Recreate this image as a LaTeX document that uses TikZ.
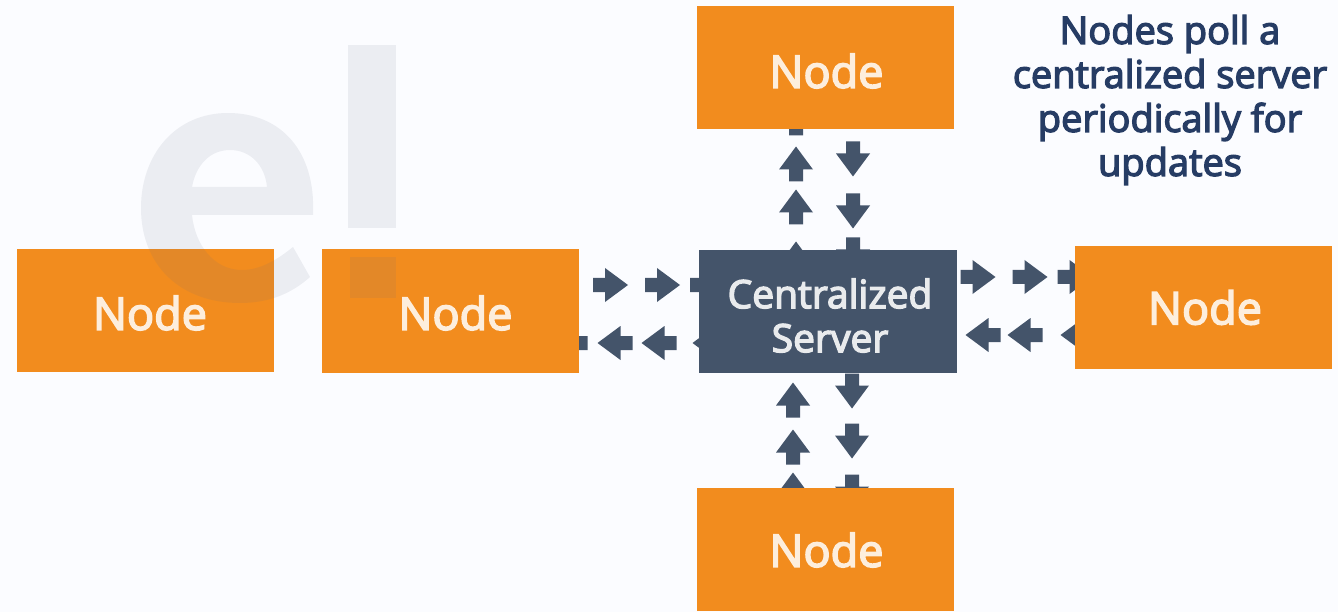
\documentclass[tikz,border=0pt]{standalone}
\usepackage{fontspec}
\setmainfont{Open Sans}
\newfontfamily\semifont[FakeBold=3.5]{Open Sans}
\usetikzlibrary{backgrounds,decorations.markings}

\definecolor{pagebg}{HTML}{FBFCFF}
\definecolor{nodeorange}{HTML}{F28C1E}
\definecolor{serverblue}{HTML}{44546A}
\definecolor{titleblue}{HTML}{263C64}
\definecolor{markgray}{HTML}{646E82}

\tikzset{
  nodebox/.style={fill=nodeorange, minimum width=257pt, minimum height=123pt, inner sep=0pt},
  nodetext/.style={text=white!85!nodeorange, inner sep=0pt, font=\fontsize{45}{45}\selectfont\semifont},
  serverbox/.style={fill=serverblue, minimum width=258pt, minimum height=123pt, inner sep=0pt},
  servertext/.style={text=white!88!serverblue, inner sep=0pt, align=center, font=\fontsize{39}{44}\selectfont\semifont},
  pulseat/.style={decoration={markings, mark=at position #1pt with {
    \fill[serverblue] (-17.5,-7) -- (-5.5,-7) -- (-5.5,-17) -- (17.5,0)
      -- (-5.5,17) -- (-5.5,7) -- (-17.5,7) -- cycle;}}},
  pulserun/.style={decorate}
}

\begin{document}
\begin{tikzpicture}[x=1pt, y=-1pt]
  \useasboundingbox (0,0) rectangle (1338,612);

  \node [nodebox] (nodea) at (145.5,310.5) {};
  \node [nodebox] (nodeb) at (450.5,311) {};
  \node [nodebox] (nodet) at (825,67.5) {};
  \node [nodebox] (noder) at (1203.5,307.5) {};
  \node [nodebox] (nodeu) at (825,549.5) {};
  \node [serverbox] (server) at (828,311.5) {};

  % lanes of the polling traffic
  \coordinate (laneww) at (0,285);
  \coordinate (lanews) at (0,343);
  \coordinate (laneew) at (0,277);
  \coordinate (lanees) at (0,335);
  \coordinate (lanenu) at (796,0);
  \coordinate (lanend) at (853,0);
  \coordinate (lanesu) at (793,0);
  \coordinate (lanesd) at (852,0);

  \begin{pgfonlayer}{background}
    \fill [pagebg] (0,0) rectangle (1338,612);

    \path [pulseat/.list={160,212,257}, pulserun] (nodeb |- laneww) -- (server |- laneww);
    \path [pulseat/.list={118,169,213,258}, pulserun] (server |- lanews) -- (nodeb |- lanews);
    \path [pulseat/.list={150,202,247}, pulserun] (server |- laneew) -- (noder |- laneew);
    \path [pulseat/.list={125.5,178.5,220.5}, pulserun] (noder |- lanees) -- (server |- lanees);

    \path [pulseat/.list={52.5,104.5,147.5,193.5}, pulserun] (lanenu |- server) -- (lanenu |- nodet);
    \path [pulseat/.list={91.5,143.5,187.5}, pulserun] (lanend |- nodet) -- (lanend |- server);
    \path [pulseat/.list={59.5,102.5,149.5}, pulserun] (lanesu |- nodeu) -- (lanesu |- server);
    \path [pulseat/.list={79.5,129.5,180.5}, pulserun] (lanesd |- server) -- (lanesd |- nodeu);
  \end{pgfonlayer}

  % faint logo over the boxes
  \fill [markgray, opacity=0.1, even odd rule]
    (313,215) .. controls (316,150) and (280,113) .. (228,113)
    .. controls (175,113) and (141,155) .. (141,208)
    .. controls (141,265) and (180,303) .. (240,303)
    .. controls (270,303) and (292,293) .. (310,277)
    -- (293,247) .. controls (277,260) and (260,270) .. (242,270)
    .. controls (214,270) and (195,245) .. (192,215) -- cycle
    (192,187) .. controls (196,165) and (210,150) .. (230,150)
    .. controls (250,150) and (265,165) .. (267,187) -- cycle;
  \fill [markgray, opacity=0.1] (348,45) rectangle (396,228);
  \fill [markgray, opacity=0.1] (350,257) rectangle (396,298);

  \node [nodetext] (texta) at ([xshift=4.5pt,yshift=-2.5pt]nodea) {Node};
  \node [nodetext] (textb) at ([xshift=5pt,yshift=-2pt]nodeb) {Node};
  \node [nodetext] (textt) at ([xshift=1.5pt,yshift=-3.5pt]nodet) {Node};
  \node [nodetext] (textr) at ([xshift=1.5pt,yshift=0pt]noder) {Node};
  \node [nodetext] (textu) at ([xshift=1.5pt,yshift=-0.5pt]nodeu) {Node};
  \node [servertext] (textc) at ([xshift=2pt,yshift=-4pt]server) {Centralized\\Server};

  \node [text=titleblue, align=center, font=\fontsize{38}{44}\selectfont\semifont] (note) at (1170,100)
    {Nodes poll a\\centralized server\\periodically for\\updates};
\end{tikzpicture}
\end{document}
